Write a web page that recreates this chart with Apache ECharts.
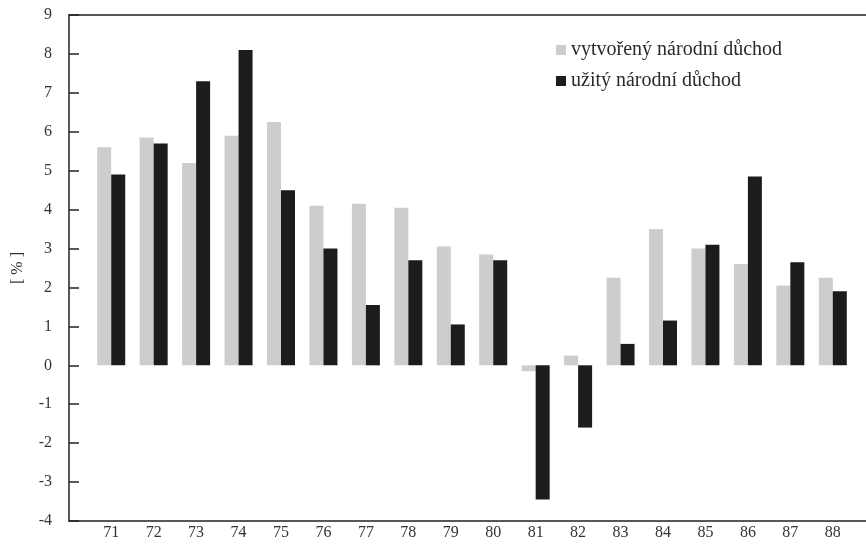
<!DOCTYPE html>
<html>
<head>
<meta charset="utf-8">
<script src="https://cdn.jsdelivr.net/npm/echarts@6/dist/echarts.min.js"></script>
<style>html,body{margin:0;padding:0;background:#fff;}#c{width:866px;height:546px;}</style>
</head>
<body>
<div id="c"></div>
<script>
const categories = ['71','72','73','74','75','76','77','78','79','80','81','82','83','84','85','86','87','88'];
const vytvoreny = [5.6, 5.85, 5.2, 5.9, 6.25, 4.1, 4.15, 4.05, 3.05, 2.85, -0.15, 0.25, 2.25, 3.5, 3.0, 2.6, 2.05, 2.25];
const uzity = [4.9, 5.7, 7.3, 8.1, 4.5, 3.0, 1.55, 2.7, 1.05, 2.7, -3.45, -1.6, 0.55, 1.15, 3.1, 4.85, 2.65, 1.9];
const yTicks = { min: -4, max: 9, interval: 1 };
const seriesNames = ['vytvořený národní důchod', 'užitý národní důchod'];

const serif = '"Liberation Serif", "DejaVu Serif", serif';
const chart = echarts.init(document.getElementById('c'));
chart.setOption({
  backgroundColor: '#ffffff',
  animation: false,
  legend: {
    orient: 'vertical',
    left: 551,
    top: 35,
    itemWidth: 10,
    itemHeight: 10,
    itemGap: 11,
    icon: 'rect',
    textStyle: { fontFamily: serif, fontSize: 20, color: '#2a2a2a' },
    data: seriesNames
  },
  grid: [
    { left: 69, right: 0, top: 15, bottom: 25, containLabel: false, outerBoundsMode: 'none' },
    { left: 90, right: 12, top: 15, bottom: 25, containLabel: false, outerBoundsMode: 'none' }
  ],
  xAxis: [
    { gridIndex: 0, type: 'value', min: 0, max: 1, position: 'bottom',
      axisLine: { show: true, onZero: false, lineStyle: { color: '#222', width: 1.5 } },
      axisTick: { show: false }, axisLabel: { show: false }, splitLine: { show: false } },
    { gridIndex: 0, type: 'value', min: 0, max: 1, position: 'top',
      axisLine: { show: true, onZero: false, lineStyle: { color: '#222', width: 1.5 } },
      axisTick: { show: false }, axisLabel: { show: false }, splitLine: { show: false } },
    { gridIndex: 1, type: 'category', data: categories, position: 'bottom',
      axisLine: { show: false, onZero: false }, axisTick: { show: false },
      axisLabel: { interval: 0, margin: 4, fontFamily: serif, fontSize: 16, color: '#333' } }
  ],
  yAxis: [
    { gridIndex: 0, type: 'value', min: yTicks.min, max: yTicks.max, interval: yTicks.interval,
      name: '[ % ]', nameLocation: 'middle', nameGap: 43, nameRotate: 90,
      nameTextStyle: { fontFamily: serif, fontSize: 16, color: '#333' },
      axisLine: { show: true, onZero: false, lineStyle: { color: '#222', width: 1.5 } },
      axisTick: { show: true, inside: true, length: 10, lineStyle: { color: '#222', width: 1.5 } },
      axisLabel: { margin: 17, fontFamily: serif, fontSize: 16, color: '#333' },
      splitLine: { show: false } },
    { gridIndex: 1, type: 'value', min: yTicks.min, max: yTicks.max, interval: yTicks.interval, show: false }
  ],
  series: [
    { name: seriesNames[0], type: 'bar', xAxisIndex: 2, yAxisIndex: 1, data: vytvoreny,
      barWidth: 14, barGap: '0%', itemStyle: { color: '#cdcdcd' } },
    { name: seriesNames[1], type: 'bar', xAxisIndex: 2, yAxisIndex: 1, data: uzity,
      barWidth: 14, barGap: '0%', itemStyle: { color: '#1c1c1c' } }
  ]
});
</script>
</body>
</html>
